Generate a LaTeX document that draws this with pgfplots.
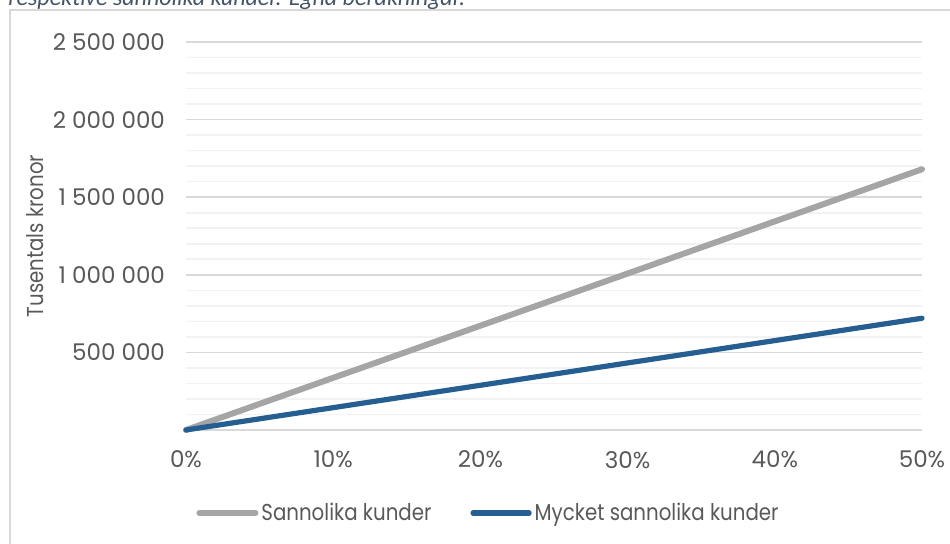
\documentclass[border=0pt]{standalone}
\usepackage{fontspec}
\setmainfont{Poppins}
\newfontfamily\lblfont[FakeStretch=0.86]{Poppins}
\newfontfamily\capfont{Carlito}
\usepackage{pgfplots}
\pgfplotsset{compat=1.18}
\definecolor{txt}{HTML}{595959}
\definecolor{gmaj}{HTML}{D9D9D9}
\definecolor{gmin}{HTML}{F2F2F2}
\definecolor{sgray}{HTML}{A5A5A5}
\definecolor{sblue}{HTML}{255E91}
\definecolor{capc}{HTML}{44546A}
\begin{document}
\begin{tikzpicture}
\useasboundingbox (0pt,0pt) rectangle (475pt,272pt);
\draw[gmaj, line width=1pt] (5pt,-10pt) rectangle (500pt,267pt);
\node[anchor=base west, inner sep=0pt, text=capc, font=\capfont\itshape\fontsize{12}{14}\selectfont] at (4pt,269pt) {respektive sannolika kunder. Egna beräkningar.};
\begin{axis}[
  at={(93pt,57pt)}, anchor=origin,
  scale only axis, width=368pt, height=194pt,
  xmin=0, xmax=50, ymin=0, ymax=2500000,
  axis line style={draw=none},
  clip=false,
  scaled y ticks=false,
  xtick={0,10,20,30,40,50},
  xticklabels={0\%,10\%,20\%,30\%,40\%,50\%},
  ytick={0,500000,1000000,1500000,2000000,2500000},
  yticklabels={,500 000,1 000 000,1 500 000,2 000 000,2 500 000},
  minor y tick num=4,
  ymajorgrids, yminorgrids,
  major grid style={gmaj, line width=0.8pt},
  minor grid style={gmin, line width=0.8pt},
  major tick length=0pt, minor tick length=0pt,
  tick label style={text=txt, font=\fontsize{11.5}{13}\selectfont},
  xticklabel style={yshift=-7pt},
  yticklabel style={xshift=-7pt},
  ylabel={Tusentals kronor},
  ylabel style={at={(axis description cs:-0.205,0.5)}, anchor=center, text=txt, font=\lblfont\fontsize{11.5}{13}\selectfont},
  legend columns=2,
  legend style={at={(axis description cs:0.4117,-0.214)}, anchor=center, draw=none, fill=none, text=txt, font=\lblfont\fontsize{11.5}{13}\selectfont,
    nodes={inner xsep=1.5pt},
    /tikz/every even column/.append style={column sep=18pt}},
  legend image code/.code={\draw[#1, line cap=round] (0pt,0pt) -- (28pt,0pt);},
]
\addplot[sgray, line width=3pt, line cap=round] coordinates {(0,0) (10,336000) (20,672000) (30,1008000) (40,1344000) (50,1680000)};
\addlegendentry{Sannolika kunder}
\addplot[sblue, line width=2.6pt, line cap=round] coordinates {(0,0) (10,144000) (20,288000) (30,432000) (40,576000) (50,720000)};
\addlegendentry{Mycket sannolika kunder}
\end{axis}
\end{tikzpicture}
\end{document}
